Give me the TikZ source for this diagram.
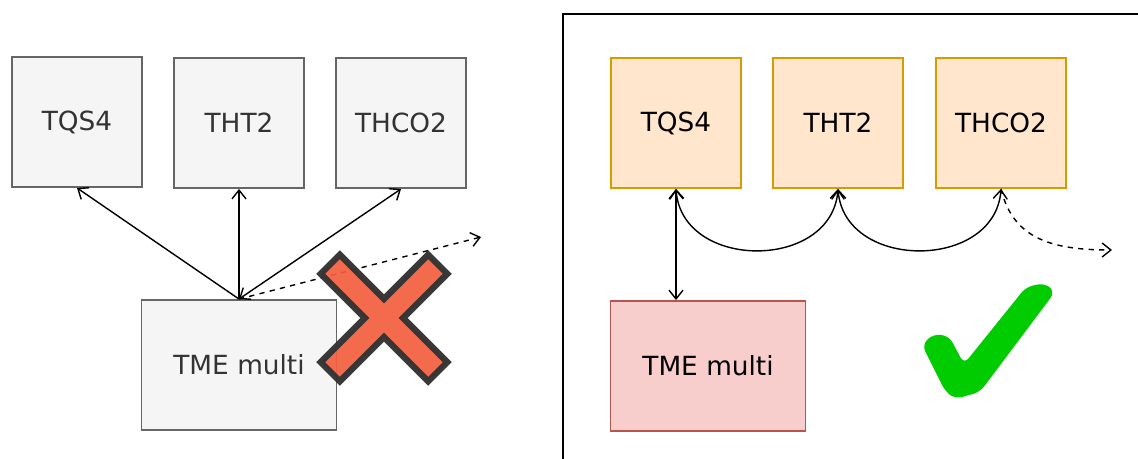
\documentclass[tikz,border=0pt]{standalone}
\usepackage{fontspec}
\setmainfont{DejaVu Sans}
\usepackage{tikz}
\usetikzlibrary{arrows.meta,positioning}
\definecolor{grayfill}{HTML}{F5F5F5}
\definecolor{grayline}{HTML}{666666}
\definecolor{orfill}{HTML}{FFE6CC}
\definecolor{orline}{HTML}{D79B00}
\definecolor{redfill}{HTML}{F8CECC}
\definecolor{redline}{HTML}{B85450}
\definecolor{crossred}{HTML}{F25F3F}
\definecolor{crossline}{HTML}{333333}
\definecolor{okgreen}{HTML}{00CC00}
\tikzset{
  gbox/.style={rectangle, draw=grayline, line width=1.1pt, fill=grayfill, text=crossline, font=\fontsize{15}{17}\selectfont},
  obox/.style={rectangle, draw=orline, line width=1.1pt, fill=orfill, text=black, font=\fontsize{15}{17}\selectfont},
  rbox/.style={rectangle, draw=redline, line width=1.1pt, fill=redfill, text=black, font=\fontsize{15}{17}\selectfont},
  sq/.style={minimum width=2.6cm, minimum height=2.6cm},
  wide/.style={minimum width=3.9cm, minimum height=2.6cm},
  arr/.style={-{Straight Barb[length=5pt,width=8pt]}, line width=0.8pt},
  barr/.style={{Straight Barb[length=5pt,width=8pt]}-{Straight Barb[length=5pt,width=8pt]}, line width=0.8pt},
  darr/.style={arr, dashed},
}

\begin{document}
\begin{tikzpicture}[x=0.02cm, y=-0.02cm]
  \useasboundingbox (0,0) rectangle (1138,459);

  % --- Left: every service talks to TME multi ---
  \node[gbox, sq] (tqsA) at (77,122) {TQS4};
  \node[gbox, sq] (thtA) at (239,123) {THT2};
  \node[gbox, sq] (thcoA) at (401,123) {THCO2};
  \node[gbox, wide] (tmeA) at (239,365) {TME multi};
  \coordinate (outA) at (481,237);

  \draw[arr] (tmeA.north) -- (tqsA.south);
  \draw[arr] (tmeA.north) -- (thtA.south);
  \draw[barr] (tmeA.north) -- (thcoA.south);
  \draw[darr] (tmeA.north) -- (outA);

  % red cross
  \begin{scope}[shift={(384,318)}, rotate=45]
    \filldraw[fill=crossred, draw=crossline, line width=3.6pt, fill opacity=0.93, draw opacity=0.97]
      (76,13.5) -- (13.5,13.5) -- (13.5,76) -- (-13.5,76) -- (-13.5,13.5)
      -- (-76,13.5) -- (-76,-13.5) -- (-13.5,-13.5) -- (-13.5,-76)
      -- (13.5,-76) -- (13.5,-13.5) -- (76,-13.5) -- cycle;
  \end{scope}

  % --- Right: services chained, TME multi on the side ---
  \draw[line width=1pt] (563,459) -- (563,14) -- (1138,14);

  \node[obox, sq] (tqsB) at (676,123) {TQS4};
  \node[obox, sq] (thtB) at (838,123) {THT2};
  \node[obox, sq] (thcoB) at (1001,123) {THCO2};
  \node[rbox, wide] (tmeB) at (708,366) {TME multi};
  \coordinate (outB) at (1112,250);

  \draw[barr] (tqsB.south) -- (tqsB.south |- tmeB.north);
  \draw[barr] (tqsB.south) .. controls +(6,82) and +(-6,82) .. (thtB.south);
  \draw[barr] (thtB.south) .. controls +(6,82) and +(-6,82) .. (thcoB.south);
  \draw[darr] (thcoB.south) .. controls +(12,50) and +(-60,0) .. (outB);

  % green tick
  \fill[okgreen, rounded corners=4] (922,345) -- (933,334) -- (949,336)
    -- (964,364) -- (1026,287) -- (1045,283) -- (1055,292) -- (980,392)
    -- (955,399) -- (945,391) -- cycle;
\end{tikzpicture}
\end{document}
